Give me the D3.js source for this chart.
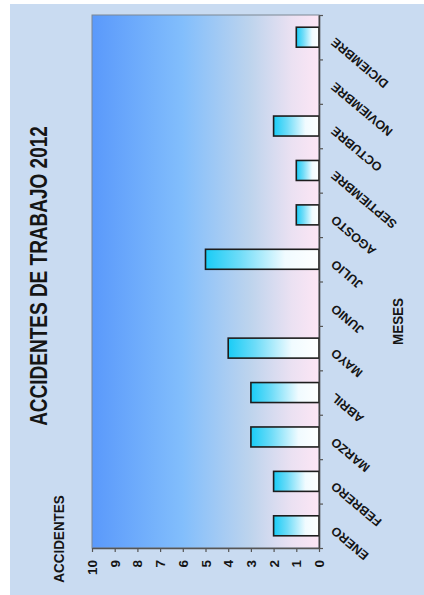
<!DOCTYPE html>
<html>
<head>
<meta charset="utf-8">
<script src="https://cdn.jsdelivr.net/npm/d3@7"></script>
<style>
  html, body { margin: 0; padding: 0; background: #ffffff; }
  svg { display: block; }
  text { font-family: "Liberation Sans", Arial, sans-serif; font-weight: bold; fill: #151515; }
</style>
</head>
<body>
<svg id="chart" width="424" height="595"></svg>
<script>
// Monthly work accidents, 2012
const months = ["ENERO", "FEBRERO", "MARZO", "ABRIL", "MAYO", "JUNIO",
                "JULIO", "AGOSTO", "SEPTIEMBRE", "OCTUBRE", "NOVIEMBRE", "DICIEMBRE"];
const accidents = [2, 2, 3, 3, 4, 0, 5, 1, 1, 2, 0, 1];
const valueTicks = [0, 1, 2, 3, 4, 5, 6, 7, 8, 9, 10];
const title = "ACCIDENTES DE TRABAJO 2012";
const valueTitle = "ACCIDENTES";
const categoryTitle = "MESES";

const svg = d3.select("#chart");

// Layout (chart is laid out sideways: values run right-to-left, months bottom-to-top)
const plot = { left: 92, right: 319, top: 15, bottom: 548 };

const defs = svg.append("defs");

const bgGrad = defs.append("linearGradient")
  .attr("id", "plotBg").attr("x1", "0%").attr("x2", "100%").attr("y1", "0%").attr("y2", "0%");
[["0%", "#5a99fb"], ["40%", "#82befc"], ["70%", "#bed4ed"], ["88%", "#ebe1f2"], ["100%", "#fde6f5"]]
  .forEach(([o, c]) => bgGrad.append("stop").attr("offset", o).attr("stop-color", c));

const barGrad = defs.append("linearGradient")
  .attr("id", "barFill").attr("x1", "0%").attr("x2", "100%").attr("y1", "0%").attr("y2", "0%");
[["0%", "#19ccf6"], ["30%", "#6edcf8"], ["70%", "#f0fbff"], ["100%", "#ffffff"]]
  .forEach(([o, c]) => barGrad.append("stop").attr("offset", o).attr("stop-color", c));

// Outer chart area
svg.append("rect").attr("x", 10).attr("y", 4).attr("width", 414).attr("height", 591)
  .attr("fill", "#c9dbf1");

// Scales
const x = d3.scaleLinear().domain([0, 10]).range([plot.right, plot.left]);
const y = d3.scaleBand().domain(months).range([plot.bottom, plot.top])
  .paddingInner(0.55).paddingOuter(0.275);
const yEdges = d3.scaleLinear().domain([0, months.length]).range([plot.bottom, plot.top]);

// Plot area
svg.append("rect")
  .attr("x", plot.left).attr("y", plot.top)
  .attr("width", plot.right - plot.left).attr("height", plot.bottom - plot.top)
  .attr("fill", "url(#plotBg)")
  .attr("stroke", "#7d8794").attr("stroke-width", 1);

// Bars
svg.append("g").selectAll("rect")
  .data(months.map((m, i) => ({ m, v: accidents[i] })).filter(d => d.v > 0))
  .join("rect")
  .attr("x", d => x(d.v))
  .attr("y", d => y(d.m))
  .attr("width", d => x(0) - x(d.v))
  .attr("height", y.bandwidth())
  .attr("fill", "url(#barFill)")
  .attr("stroke", "#1d1d1d").attr("stroke-width", 1.6);

// Value axis (bottom)
const xAxis = svg.append("g")
  .attr("transform", `translate(0,${plot.bottom})`)
  .call(d3.axisBottom(x).tickValues(valueTicks).tickSize(4).tickSizeOuter(0).tickFormat(d3.format("d")));
xAxis.select(".domain").attr("stroke", "#555").attr("stroke-width", 1.5);
xAxis.selectAll(".tick line").attr("stroke", "#555").attr("stroke-width", 1.2);
xAxis.selectAll(".tick text")
  .attr("fill", "#151515")
  .attr("font-size", 13.5)
  .attr("text-anchor", "end")
  .attr("dominant-baseline", "central")
  .attr("y", 0).attr("dy", null)
  .attr("transform", "translate(0,12) rotate(-90)");

// Month axis (right side), ticks between months
const yAxis = svg.append("g")
  .attr("transform", `translate(${plot.right},0)`)
  .call(d3.axisRight(yEdges).tickValues(d3.range(0, months.length + 1)).tickSize(4).tickSizeOuter(0).tickFormat(""));
yAxis.select(".domain").attr("stroke", "#444").attr("stroke-width", 1.6);
yAxis.selectAll(".tick line").attr("stroke", "#555").attr("stroke-width", 1.2);

// Month labels, slanted
svg.append("g").selectAll("text")
  .data(months)
  .join("text")
  .attr("font-size", 12.5)
  .attr("text-anchor", "end")
  .attr("dominant-baseline", "central")
  .attr("transform", d => `translate(${plot.right + 14},${y(d) + y.bandwidth() / 2 + 3}) rotate(220)`)
  .text(d => d);

// Chart title
svg.append("text")
  .attr("font-size", 19)
  .attr("text-anchor", "middle")
  .attr("dominant-baseline", "central")
  .attr("transform", "translate(39.5,276) scale(1.24,1) rotate(-90)")
  .text(title);

// Axis titles
svg.append("text")
  .attr("font-size", 13.5)
  .attr("text-anchor", "middle")
  .attr("dominant-baseline", "central")
  .attr("transform", "translate(58.5,539) scale(1.1,1) rotate(-90)")
  .text(valueTitle);

svg.append("text")
  .attr("font-size", 13.4)
  .attr("text-anchor", "middle")
  .attr("dominant-baseline", "central")
  .attr("transform", "translate(398,321.5) scale(1.05,1) rotate(-90)")
  .text(categoryTitle);
</script>
</body>
</html>
